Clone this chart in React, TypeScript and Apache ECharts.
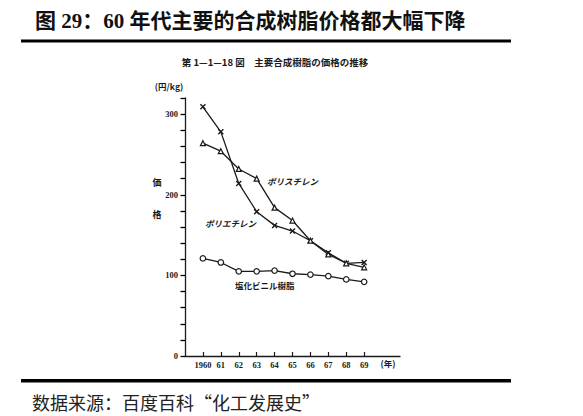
import React, { useEffect, useRef } from "react";
import * as echarts from "echarts";

const years = [1960, 1961, 1962, 1963, 1964, 1965, 1966, 1967, 1968, 1969];
const yearLabels = ["1960", "61", "62", "63", "64", "65", "66", "67", "68", "69"];
const polyethylene = [309, 278, 214, 179, 162, 155, 143, 128, 115, 116];
const polystyrene = [264, 254, 232, 220, 184, 168, 143, 126, 115, 110];
const pvc = [121, 116, 105, 105, 106, 102, 101, 99, 95, 92];

const TITLE = "图 29：60 年代主要的合成树脂价格都大幅下降";
const SUBTITLE = "第 1—1—18 図　主要合成樹脂の価格の推移";
const SOURCE = "数据来源：百度百科“化工发展史”";

const INK = "#1a1a1a";
const JP = '"Noto Sans CJK JP", "Noto Sans CJK SC", sans-serif';
const SERIF = '"Liberation Serif", "DejaVu Serif", serif';

const CROSS = "path://M0,0 L10,10 M10,0 L0,10";

export default function App() {
  const ref = useRef<HTMLDivElement>(null);
  useEffect(() => {
    if (!ref.current) return;
    const chart = echarts.init(ref.current, null, { renderer: "svg" });
    const pairs = (vals: number[]) => years.map((y, i) => [y, vals[i]]);
    chart.setOption({
      animation: false,
      backgroundColor: "#ffffff",
      grid: { left: 185, right: 183, top: 98, bottom: 60 },
      xAxis: {
        type: "value",
        min: 1959,
        max: 1971,
        interval: 1,
        splitLine: { show: false },
        axisLine: { lineStyle: { color: INK, width: 1.3 } },
        axisTick: { inside: true, length: 4, lineStyle: { color: INK, width: 1.2 }, customValues: years },
        axisLabel: {
          customValues: years,
          margin: 4,
          color: INK,
          fontFamily: SERIF,
          fontWeight: "bold",
          fontSize: 8.5,
          formatter: (v: number) => {
            const i = years.indexOf(v);
            return i >= 0 ? yearLabels[i] : "";
          },
        },
      },
      yAxis: {
        type: "value",
        min: 0,
        max: 320,
        interval: 20,
        splitLine: { show: false },
        axisLine: { show: true, lineStyle: { color: INK, width: 1.3 } },
        axisTick: { show: true, inside: false, length: 4.5, lineStyle: { color: "#000", width: 1.3 } },
        axisLabel: {
          margin: 7,
          color: INK,
          fontFamily: SERIF,
          fontWeight: "bold",
          fontSize: 8.5,
          formatter: (v: number) => (v % 100 === 0 ? String(v) : ""),
        },
      },
      series: [
        {
          name: "ポリエチレン",
          type: "line",
          data: pairs(polyethylene),
          symbol: CROSS,
          symbolSize: 5,
          lineStyle: { color: INK, width: 1.3 },
          itemStyle: { color: "none", borderColor: INK, borderWidth: 1.4 },
          z: 3,
        },
        {
          name: "ポリスチレン",
          type: "line",
          data: pairs(polystyrene),
          symbol: "triangle",
          symbolSize: 5,
          lineStyle: { color: INK, width: 1.3 },
          itemStyle: { color: "#ffffff", borderColor: INK, borderWidth: 1.2 },
          z: 4,
        },
        {
          name: "塩化ビニル樹脂",
          type: "line",
          data: pairs(pvc),
          symbol: "circle",
          symbolSize: 5.5,
          lineStyle: { color: INK, width: 1.3 },
          itemStyle: { color: "#ffffff", borderColor: INK, borderWidth: 1.2 },
          z: 4,
        },
      ],
      graphic: [
        {
          type: "text",
          left: 35,
          top: 10,
          style: {
            text: TITLE,
            fill: "#111",
            font: `bold 21px "Liberation Serif", "Noto Sans CJK SC", serif`,
          },
        },
        { type: "rect", shape: { x: 21, y: 39.5, width: 490, height: 3 }, style: { fill: "#000" } },
        {
          type: "text",
          x: 275,
          y: 62,
          style: {
            text: SUBTITLE,
            fill: INK,
            font: `bold 9.5px ${JP}`,
            align: "center",
            verticalAlign: "middle",
          },
        },
        {
          type: "text",
          x: 169,
          y: 86,
          style: {
            text: "(円/kg)",
            fill: INK,
            font: `bold 8.5px ${JP}`,
            align: "center",
            verticalAlign: "middle",
          },
        },
        {
          type: "text",
          x: 157,
          y: 182,
          style: { text: "価", fill: INK, font: `bold 9px ${JP}`, align: "center", verticalAlign: "middle" },
        },
        {
          type: "text",
          x: 157,
          y: 214,
          style: { text: "格", fill: INK, font: `bold 9px ${JP}`, align: "center", verticalAlign: "middle" },
        },
        {
          type: "text",
          x: 267,
          y: 181,
          style: { text: "ポリスチレン", fill: INK, font: `italic bold 8.5px ${JP}`, verticalAlign: "middle" },
        },
        {
          type: "text",
          x: 205,
          y: 223,
          style: { text: "ポリエチレン", fill: INK, font: `italic bold 8.5px ${JP}`, verticalAlign: "middle" },
        },
        {
          type: "text",
          x: 235,
          y: 285,
          style: { text: "塩化ビニル樹脂", fill: INK, font: `bold 8.5px ${JP}`, verticalAlign: "middle" },
        },
        {
          type: "text",
          x: 388,
          y: 363,
          style: { text: "(年)", fill: INK, font: `bold 8.5px ${JP}`, align: "center", verticalAlign: "middle" },
        },
        { type: "rect", shape: { x: 21, y: 379, width: 490, height: 3.5 }, style: { fill: "#000" } },
        {
          type: "text",
          x: 32,
          y: 402,
          style: {
            text: SOURCE,
            fill: "#222",
            font: `normal 18px "Noto Sans CJK SC", sans-serif`,
            verticalAlign: "middle",
          },
        },
      ],
    });
    return () => chart.dispose();
  }, []);
  return (
    <div
      ref={ref}
      style={{ position: "fixed", left: 0, top: 0, width: 583, height: 416, background: "#fff" }}
    />
  );
}
